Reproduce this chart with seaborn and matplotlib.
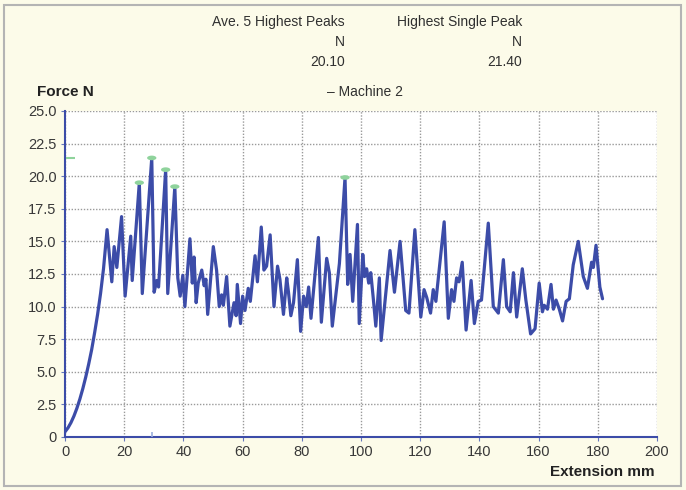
#!/usr/bin/env python
import matplotlib
matplotlib.use("Agg")
import matplotlib.pyplot as plt
from matplotlib.patches import Rectangle
from matplotlib.ticker import FuncFormatter, MultipleLocator
import numpy as np
import pandas as pd
import seaborn as sns

# Force / extension trace
extension = [0, 1, 2, 3, 4, 5, 6, 7, 8, 9, 10, 11, 12, 13, 14.2,
             15.8, 16.6, 17.5, 19.1, 20.3, 22.2, 22.7, 25.1, 26.1, 29.3,
             30.1, 31.0, 31.6, 34.0, 34.7, 37.1, 38.1, 38.9, 39.8, 40.5,
             42.2, 43.0, 43.6, 44.3, 45.0, 46.2, 47.0, 47.6, 48.2, 50.1,
             51.2, 52.1, 52.9, 53.5, 54.6, 55.7, 57.1, 57.8, 58.2, 59.3,
             60.0, 60.8, 61.9, 62.6, 64.2, 65.0, 66.3, 67.2, 68.1, 69.3,
             70.6, 71.8, 72.6, 73.8, 74.9, 75.5, 76.3, 77.2, 78.5, 79.6,
             80.6, 81.5, 82.3, 83.1, 85.6, 86.6, 88.4, 89.3, 90.3, 92.7,
             94.6, 95.5, 96.3, 97.2, 98.8, 99.4, 100.6, 101.2, 101.9, 102.6,
             103.3, 104.2, 105.0, 106.2, 106.8, 109.8, 111.3, 113.2, 115.1, 116.2,
             118.2, 120.2, 121.3, 122.2, 123.5, 124.4, 125.3, 128.1, 129.5, 130.6,
             131.4, 132.3, 133.1, 134.2, 135.5, 137.2, 138.3, 139.6, 140.7, 143.0,
             144.7, 146.4, 148.1, 149.2, 150.4, 151.5, 152.6, 154.5, 155.7, 157.3,
             158.8, 160.2, 161.3, 161.9, 163.0, 164.2, 165.0, 165.9, 167.0, 168.1,
             169.3, 170.4, 171.7, 173.4, 175.1, 176.5, 177.9, 178.5, 179.4, 180.7,
             181.6]
force = [0.4, 0.7, 1.1, 1.6, 2.2, 2.9, 3.7, 4.6, 5.6, 6.7, 8.0, 9.4, 11.0, 12.9, 15.9,
         11.9, 14.6, 13.0, 16.9, 10.8, 15.4, 12.0, 19.5, 11.0, 21.4,
         11.1, 12.0, 11.5, 20.5, 11.0, 19.2, 12.2, 10.8, 12.4, 10.0,
         15.2, 11.8, 13.8, 10.3, 11.8, 12.8, 11.6, 12.1, 9.4, 14.6,
         12.8, 10.0, 10.9, 10.1, 12.3, 8.5, 10.3, 9.3, 11.7, 8.7,
         10.8, 9.7, 11.4, 10.4, 13.9, 11.9, 16.1, 12.8, 13.1, 15.5,
         10.0, 13.1, 12.1, 9.4, 12.2, 11.1, 9.3, 10.3, 13.6, 8.1,
         10.8, 10.0, 11.5, 9.1, 15.3, 8.8, 13.7, 12.6, 8.5, 13.3,
         19.9, 11.7, 14.0, 10.4, 16.3, 8.7, 14.0, 12.3, 12.9, 11.8,
         12.6, 10.5, 8.5, 12.2, 7.4, 14.3, 11.1, 15.0, 9.7, 9.5,
         15.9, 9.2, 11.3, 10.7, 9.5, 11.3, 10.4, 16.5, 9.1, 11.3,
         10.4, 12.2, 11.9, 13.4, 8.2, 12.0, 8.7, 10.4, 10.5, 16.4,
         10.0, 9.5, 13.6, 10.0, 9.6, 12.6, 9.2, 12.9, 10.5, 7.9,
         8.3, 11.8, 9.6, 10.1, 9.8, 11.7, 9.8, 10.5, 9.8, 8.9,
         10.4, 10.6, 13.2, 15.0, 12.3, 11.4, 13.4, 13.0, 14.7, 11.5,
         10.6]

# the five highest peaks (green markers)
peak_extension = [25.1, 29.3, 34.0, 37.1, 94.6]
peak_force = [19.5, 21.4, 20.5, 19.2, 19.9]

header_cols = ["Ave. 5 Highest Peaks", "Highest Single Peak"]
header_units = ["N", "N"]
header_values = ["20.10", "21.40"]

LINE = "#3c4ca8"
GREEN = "#8fd39c"
BG = "#fcfbe9"

sns.set_theme(style="white")
plt.rcParams["font.family"] = ["Liberation Sans", "DejaVu Sans"]

df = pd.DataFrame({"Extension": extension, "Force": force})
peaks = pd.DataFrame({"Extension": peak_extension, "Force": peak_force})

fig = plt.figure(figsize=(6.86, 4.90), dpi=100, facecolor=BG)
ax = fig.add_axes([0.0948, 0.1082, 0.8629, 0.6653])
ax.set_facecolor("white")

sns.lineplot(data=df, x="Extension", y="Force", ax=ax, color=LINE,
             linewidth=2.3, sort=False, zorder=3)

# flattened ellipse marker for the peaks
t = np.linspace(0, 2 * np.pi, 30)
ellipse = np.column_stack([np.cos(t), 0.5 * np.sin(t)])
sns.scatterplot(data=peaks, x="Extension", y="Force", ax=ax, marker=ellipse,
                s=45, color=GREEN, edgecolor="none", zorder=4)

# highest single peak indicator on the force axis
ax.hlines(max(peak_force), 0.3, 3.4, color=GREEN, linewidth=1.5, zorder=4)
ax.vlines(peak_extension[int(np.argmax(peak_force))], 0, 0.35,
          color="#9aaedc", linewidth=1.2, zorder=4)

ax.set_xlim(0, 200)
ax.set_ylim(0, 25)
ax.xaxis.set_major_locator(MultipleLocator(20))
ax.yaxis.set_major_locator(MultipleLocator(2.5))
ax.yaxis.set_major_formatter(FuncFormatter(lambda v, p: "0" if v == 0 else f"{v:.1f}"))
ax.grid(True, color="#9a9a9a", linestyle=(0, (1, 1.2)), linewidth=1.0, zorder=0)
ax.tick_params(axis="both", labelsize=10.5, labelcolor="#383838", length=3,
               width=0.8, pad=3, direction="out", bottom=True, left=True,
               color="#6677bb")
for side in ["top", "right"]:
    ax.spines[side].set_visible(False)
for side in ["left", "bottom"]:
    ax.spines[side].set_color(LINE)
    ax.spines[side].set_linewidth(1.5)
ax.set_xlabel("")
ax.set_ylabel("")

# header block
txt = dict(color="#303030", fontsize=10, ha="right", va="center")
for col, xr in zip(range(2), [345, 522]):
    fig.text(xr / 686, 1 - 22 / 490, header_cols[col], **txt)
    fig.text(xr / 686, 1 - 42 / 490, header_units[col], **txt)
    fig.text(xr / 686, 1 - 62 / 490, header_values[col], **txt)
fig.text(365 / 686, 1 - 92 / 490, "\u2013 Machine 2", color="#303030",
         fontsize=10, ha="center", va="center")

fig.text(37 / 686, 1 - 92 / 490, "Force N", color="#222222", fontsize=11,
         fontweight="bold", ha="left", va="center")
fig.text(655 / 686, 1 - 472 / 490, "Extension mm", color="#222222",
         fontsize=11, fontweight="bold", ha="right", va="center")

# grey frame around the panel
fig.patches.append(Rectangle((4 / 686, 4 / 490), 677 / 686, 481 / 490,
                             transform=fig.transFigure, fill=False,
                             edgecolor="#b4b4b4", linewidth=1.5))

fig.savefig("out.png", dpi=100, facecolor=BG)
